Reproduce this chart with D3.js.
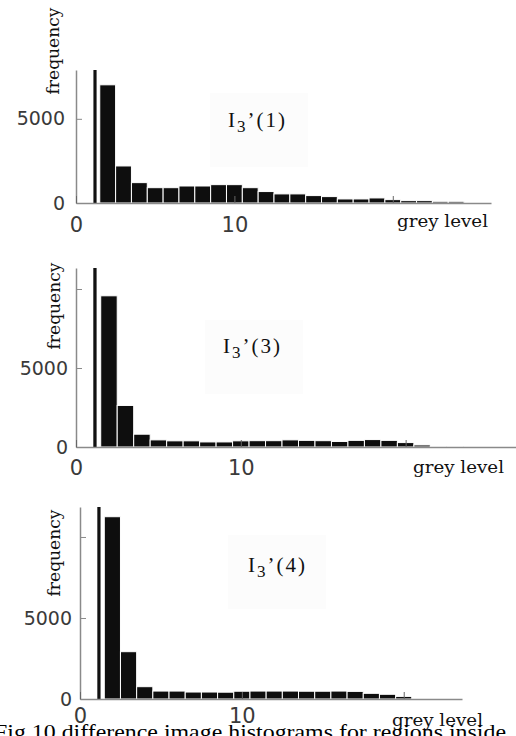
<!DOCTYPE html>
<html>
<head>
<meta charset="utf-8">
<script src="https://cdn.jsdelivr.net/npm/d3@7"></script>
<style>
  html, body { margin: 0; padding: 0; background: #fff; }
  svg { display: block; }
</style>
</head>
<body>
<div id="chart"></div>
<script>
// Histogram values (grey level -> frequency)
const levels1 = [2, 3, 4, 5, 6, 7, 8, 9, 10, 11, 12, 13, 14, 15, 16, 17, 18, 19, 20, 21, 22, 23, 24];
const freq1 = [7020, 2200, 1210, 910, 910, 1010, 1010, 1090, 1090, 910, 680, 540, 540, 440, 380, 240, 240, 300, 200, 140, 140, 100, 100];

const levels2 = [2, 3, 4, 5, 6, 7, 8, 9, 10, 11, 12, 13, 14, 15, 16, 17, 18, 19, 20, 21, 22, 23];
const freq2 = [9570, 2630, 810, 450, 390, 390, 320, 320, 390, 400, 400, 450, 420, 400, 350, 420, 470, 420, 280, 130, 60, 50];

const levels3 = [2, 3, 4, 5, 6, 7, 8, 9, 10, 11, 12, 13, 14, 15, 16, 17, 18, 19, 20, 21];
const freq3 = [11250, 2920, 760, 490, 490, 430, 430, 420, 480, 490, 490, 490, 480, 480, 490, 470, 350, 290, 160, 60];

// thin spike near level 1 (goes off the top of each plot)
const spikeLevels = [1.2, 1.15, 1.17];
const spikeValues = [20000, 20000, 20000];

const yTicks = [0, 5000, 10000];
const yTickLabels = ["0", "5000", ""];
const xTicks = [0, 10, 20];
const xTickLabels = ["0", "10", ""];
const panelNames = ["1", "3", "4"];
const xLabel = "grey level";
const yLabel = "frequency";
const caption = "Fig.10 difference image histograms for regions inside";

// Layout of the three panels
const panels = [
  { levels: levels1, freq: freq1, xMax: 26.2, yMax: 7900, left: 76, right: 491, top: 70, base: 203,
    xPad: 14, yPad: 11, freqX: 53, freqY: 51, boxX: 210, boxY: 93, annX: 228, annY: 127, greyX: 397, greyY: 227 },
  { levels: levels2, freq: freq2, xMax: 27, yMax: 11330, left: 76, right: 521, top: 268, base: 447,
    xPad: 13, yPad: 8, freqX: 54, freqY: 306, boxX: 205, boxY: 320, annX: 223, annY: 353, greyX: 413, greyY: 473 },
  { levels: levels3, freq: freq3, xMax: 23.6, yMax: 11850, left: 80, right: 462, top: 507, base: 699,
    xPad: 9, yPad: 8, freqX: 54, freqY: 553, boxX: 228, boxY: 535, annX: 248, annY: 572, greyX: 392, greyY: 726 }
];

const W = 516, H = 736;
const svg = d3.select("#chart").append("svg")
  .attr("width", W)
  .attr("height", H);

panels.forEach((p, i) => {
  const x = d3.scaleLinear().domain([0, p.xMax]).range([p.left, p.right]);
  const y = d3.scaleLinear().domain([0, p.yMax]).range([p.base, p.top]).clamp(true);
  const g = svg.append("g");
  const bw = x(1) - x(0);

  // faint annotation box + label
  g.append("rect")
    .attr("x", p.boxX).attr("y", p.boxY)
    .attr("width", 98).attr("height", 74)
    .attr("fill", "#fcfcfc");
  const ann = g.append("text")
    .attr("x", p.annX).attr("y", p.annY)
    .attr("font-family", "Liberation Serif, Times New Roman, serif")
    .attr("font-size", 21)
    .attr("letter-spacing", 2)
    .attr("fill", "#111");
  ann.append("tspan").text("I");
  ann.append("tspan").attr("dy", 5).attr("font-size", 17).text("3");
  ann.append("tspan").attr("dy", -5).text("’(" + panelNames[i] + ")");

  // bars
  g.selectAll(".bar")
    .data(p.levels.map((l, j) => ({ level: l, value: p.freq[j] })))
    .enter()
    .append("rect")
    .attr("class", "bar")
    .attr("x", d => x(d.level - 0.5))
    .attr("y", d => y(d.value))
    .attr("width", bw)
    .attr("height", d => y(0) - y(d.value))
    .attr("fill", "#0e0e0e")
    .attr("stroke", "#fff")
    .attr("stroke-width", 1);

  // spike
  g.append("rect")
    .attr("x", x(spikeLevels[i] - 0.1))
    .attr("y", y(spikeValues[i]))
    .attr("width", x(0.2) - x(0))
    .attr("height", y(0) - y(spikeValues[i]))
    .attr("fill", "#111");

  // axes
  const yAxis = g.append("g")
    .attr("transform", `translate(${p.left},0)`)
    .call(d3.axisLeft(y).tickValues(yTicks.filter(t => t <= p.yMax))
      .tickFormat((d, k) => yTickLabels[k])
      .tickSizeInner(-6).tickSizeOuter(0).tickPadding(p.yPad));
  yAxis.select(".domain").attr("stroke", "#8a8a8a").attr("stroke-width", 1.5);
  yAxis.selectAll(".tick line").attr("stroke", "#8a8a8a");
  yAxis.selectAll(".tick text")
    .attr("font-family", "DejaVu Sans, Verdana, sans-serif")
    .attr("font-size", 19)
    .attr("fill", "#3a3a3a");

  const xAxis = g.append("g")
    .attr("transform", `translate(0,${p.base})`)
    .call(d3.axisBottom(x).tickValues(xTicks)
      .tickFormat((d, k) => xTickLabels[k])
      .tickSizeInner(-7).tickSizeOuter(0).tickPadding(p.xPad));
  xAxis.select(".domain").attr("stroke", "#8a8a8a").attr("stroke-width", 1.5);
  xAxis.selectAll(".tick line").attr("stroke", "#666");
  xAxis.selectAll(".tick text")
    .attr("font-family", "DejaVu Sans, Verdana, sans-serif")
    .attr("font-size", 21)
    .attr("fill", "#3a3a3a");

  // axis titles
  g.append("text")
    .attr("transform", `translate(${p.freqX + 6},${p.freqY}) rotate(-90)`)
    .attr("text-anchor", "middle")
    .attr("font-family", "DejaVu Serif, serif")
    .attr("font-size", 17)
    .attr("textLength", 87)
    .attr("lengthAdjust", "spacingAndGlyphs")
    .attr("fill", "#111")
    .text(yLabel);

  g.append("text")
    .attr("x", p.greyX).attr("y", p.greyY)
    .attr("font-family", "DejaVu Serif, serif")
    .attr("font-size", 17)
    .attr("textLength", 91)
    .attr("lengthAdjust", "spacingAndGlyphs")
    .attr("fill", "#111")
    .text(xLabel);
});

svg.append("text")
  .attr("x", -6).attr("y", 739)
  .attr("font-family", "Liberation Serif, Times New Roman, serif")
  .attr("font-size", 21)
  .attr("textLength", 512)
  .attr("lengthAdjust", "spacingAndGlyphs")
  .attr("fill", "#000")
  .text(caption);
</script>
</body>
</html>
